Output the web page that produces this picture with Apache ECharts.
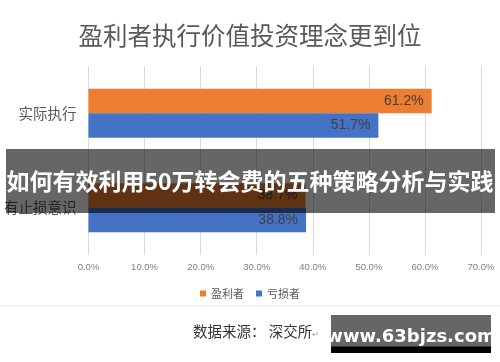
<!DOCTYPE html>
<html>
<head>
<meta charset="utf-8">
<script src="https://cdn.jsdelivr.net/npm/echarts@6/dist/echarts.min.js"></script>
<style>html,body{margin:0;padding:0;background:#fff;}#c{width:500px;height:362px;}</style>
</head>
<body>
<div id="c"></div>
<script>
const titleText = '盈利者执行价值投资理念更到位';
const categories = ['有止损意识', '实际执行'];
const seriesNames = ['盈利者', '亏损者'];
const profitValues = [38.7, 61.2];
const lossValues = [38.8, 51.7];
const axisMin = 0, axisMax = 70, axisInterval = 10;
const bannerText = '如何有效利用50万转会费的五种策略分析与实践';
const sourceText = '数据来源： 深交所';
const watermarkText = 'www.63bjzs.com';

const chart = echarts.init(document.getElementById('c'));
const narrow = '"Liberation Sans", Arial, sans-serif';
const cjk = '"Noto Sans CJK SC", sans-serif';
const labelCfg = {
  show: true, position: 'insideRight', distance: 8,
  formatter: p => p.value.toFixed(1) + '%',
  color: '#404040', fontSize: 14, fontFamily: narrow
};
chart.setOption({
  animation: false,
  title: {
    text: titleText, left: 'center', top: 18,
    textStyle: { fontSize: 24.5, fontWeight: 'normal', color: '#595959', fontFamily: cjk }
  },
  legend: {
    data: seriesNames, left: 'center', top: 283,
    icon: 'rect', itemWidth: 6, itemHeight: 6, itemGap: 12,
    textStyle: { fontSize: 11, color: '#595959', fontFamily: cjk }
  },
  grid: { left: 88.5, right: 19, top: 66, bottom: 107, containLabel: false },
  xAxis: {
    type: 'value', min: axisMin, max: axisMax, interval: axisInterval,
    axisLine: { show: false }, axisTick: { show: false },
    splitLine: { lineStyle: { color: '#d9d9d9' } },
    axisLabel: { formatter: v => v.toFixed(1) + '%', color: '#808080', fontSize: 9.5, fontFamily: narrow, margin: 7 }
  },
  yAxis: {
    type: 'category', data: categories,
    axisLine: { show: false }, axisTick: { show: false },
    axisLabel: { color: '#595959', fontSize: 14.5, fontFamily: cjk, margin: 12 }
  },
  series: [
    { name: seriesNames[0], type: 'bar', data: profitValues, barWidth: 24.5, barGap: '0%',
      itemStyle: { color: '#ED7D31' }, label: labelCfg },
    { name: seriesNames[1], type: 'bar', data: lossValues, barWidth: 24.5, barGap: '0%',
      itemStyle: { color: '#4472C4' }, label: labelCfg }
  ],
  graphic: [
    { type: 'rect', shape: { x: 6, y: 149, width: 489, height: 64 }, style: { fill: 'rgba(0,0,0,0.6)' }, z: 100 },
    { type: 'text', x: 250, y: 181, z: 101,
      style: { text: bannerText, fill: '#fff', fontSize: 23, fontWeight: 'bold', fontFamily: cjk, align: 'center', verticalAlign: 'middle' } },
    { type: 'line', shape: { x1: 0, y1: 306, x2: 500, y2: 306 }, style: { stroke: '#ececec', lineWidth: 1.5 }, z: 100 },
    { type: 'text', x: 193, y: 331, z: 101,
      style: { text: '{a|' + sourceText + '}{b|↵}', verticalAlign: 'middle', align: 'left',
        rich: { a: { fontSize: 14.5, fill: '#333', fontFamily: cjk }, b: { fontSize: 8, fill: '#999', fontFamily: cjk, padding: [6, 0, 0, 0] } } } },
    { type: 'rect', shape: { x: 331, y: 315, width: 160, height: 32 }, style: { fill: '#666' }, z: 100 },
    { type: 'rect', shape: { x: 331, y: 346.5, width: 160, height: 6.5 }, style: { fill: '#000' }, z: 100 },
    { type: 'text', x: 411, y: 337, z: 101,
      style: { text: watermarkText, fill: '#fff', fontSize: 18, fontWeight: 'bold', fontFamily: '"DejaVu Sans", sans-serif', align: 'center', verticalAlign: 'middle' } }
  ]
});
</script>
</body>
</html>
